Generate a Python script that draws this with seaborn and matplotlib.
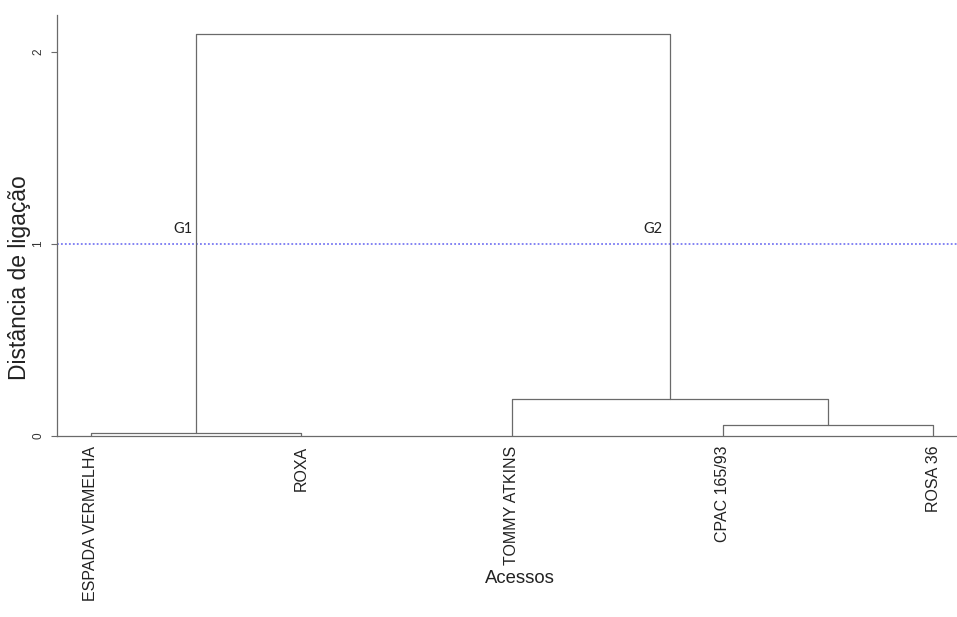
import pandas as pd
import seaborn as sns
import matplotlib
matplotlib.use("Agg")
import matplotlib.pyplot as plt

# folhas do dendrograma (ordem no eixo x)
acessos = ["ESPADA VERMELHA", "ROXA", "TOMMY ATKINS", "CPAC 165/93", "ROSA 36"]

# fusoes: ids 0-4 sao folhas, 5.. sao os grupos formados em ordem
merge_left = [0, 3, 2, 5]
merge_right = [1, 4, 6, 7]
merge_height = [0.015, 0.055, 0.19, 2.09]

corte = 1.0
grupos = ["G1", "G2"]
grupo_merge = [0, 2]   # fusao onde fica cada rotulo de grupo

# posicoes e alturas dos nos
pos = {i: i + 1 for i in range(len(acessos))}
alt = {i: 0.0 for i in range(len(acessos))}
rows = []
for k, (a, b, h) in enumerate(zip(merge_left, merge_right, merge_height)):
    node = len(acessos) + k
    xa, xb = pos[a], pos[b]
    for x, y in [(xa, alt[a]), (xa, h), (xb, h), (xb, alt[b])]:
        rows.append({"seg": k, "x": x, "y": y})
    pos[node] = (xa + xb) / 2
    alt[node] = h
df = pd.DataFrame(rows)

sns.set_style("ticks")
plt.rcParams["font.family"] = ["Liberation Sans", "DejaVu Sans"]

fig = plt.figure(figsize=(9.57, 6.17), dpi=100)
ax = fig.add_axes([57 / 957, (617 - 436) / 617, 900 / 957, 421 / 617])

cor = "#6a6a6a"
sns.lineplot(data=df, x="x", y="y", units="seg", estimator=None, sort=False,
             color=cor, lw=0.9, ax=ax, legend=False)

ax.axhline(corte, color="#7a7af2", lw=1.3, ls=(0, (1, 1.2)), zorder=0)

for g, m in zip(grupos, grupo_merge):
    xm = pos[len(acessos) + m]
    dx = -2.5 if g == "G1" else -5
    ax.annotate(g, (xm, 1.055), xytext=(dx, 0), textcoords="offset points",
                ha="right", va="baseline", fontsize=10.5, family=["Lato", "DejaVu Sans"],
                color="#222222")

ax.set_xlim(0.8385, 5.114)
ax.set_ylim(0, 2.19)

ax.set_xticks(range(1, len(acessos) + 1))
ax.set_xticklabels(acessos, rotation=90, fontsize=11.5, va="top", ha="center")
ax.tick_params(axis="x", length=0, pad=7, colors="#222222")

ax.set_yticks([0, 1, 2])
ax.set_yticklabels(["0", "1", "2"], rotation=90, va="center", fontsize=8.5)
ax.tick_params(axis="y", length=4.5, width=0.8, pad=4.5, color=cor, labelcolor="#333333")

for s in ["top", "right"]:
    ax.spines[s].set_visible(False)
ax.spines["left"].set_color(cor)
ax.spines["bottom"].set_color(cor)
ax.spines["left"].set_linewidth(0.9)
ax.spines["bottom"].set_linewidth(0.9)

ax.set_xlabel("Acessos", fontsize=13.3, color="#222222", va="top")
ax.xaxis.set_label_coords(0.514, -0.318)
ax.set_ylabel("Distância de ligação", fontsize=16.5, color="#222222")
ax.yaxis.set_label_coords(-0.029, 0.375)

fig.savefig("out.png", dpi=100)
